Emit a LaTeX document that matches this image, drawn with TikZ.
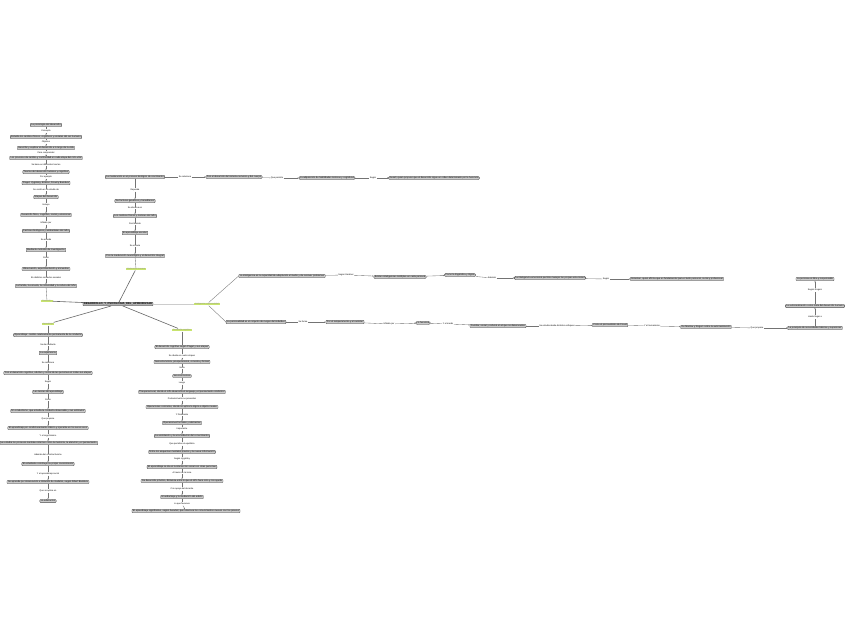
\documentclass[tikz,border=0pt]{standalone}
\usepackage{fontspec}
\setmainfont{Liberation Sans}
\usetikzlibrary{arrows.meta}
\definecolor{topicgreen}{RGB}{200,228,110}
\tikzset{
  box/.style={draw=black!70, fill=black!20, rounded corners=0.8pt, line width=0.3pt,
    inner xsep=1pt, inner ysep=0.7pt, font=\fontsize{2.4}{2.8}\selectfont},
  centralbox/.style={box, fill=black!30, font=\fontsize{2.7}{3}\selectfont\bfseries},
  lab/.style={fill=white, inner sep=0.4pt, font=\fontsize{2.2}{2.6}\selectfont},
  topic/.style={fill=topicgreen, inner xsep=1pt, inner ysep=0.5pt,
    text=black!40, font=\fontsize{2}{2.4}\selectfont},
  conn/.style={draw=black!55, line width=0.35pt},
  arr/.style={conn, -{Stealth[length=1.3pt,width=1.2pt]}},
  thick conn/.style={draw=black!60, line width=0.6pt},
  light conn/.style={draw=black!20, line width=0.8pt}
}
\begin{document}
\begin{tikzpicture}[x=1pt,y=-1pt]
\fill[white] (0,0) rectangle (848,638);
\useasboundingbox (0,0) rectangle (848,638);

% central node and topics
\node[centralbox] (c) at (118,304) {DESARROLLO\_Y\_PSICOLOGIA\_DEL\_APRENDIZAJE};
\node[topic] (g1) at (47,301) {Desarrollo};
\node[topic] (g2) at (48,324) {Aprendizaje};
\node[topic] (g3) at (136,269) {Maduración humana};
\node[topic] (g4) at (182,330) {Desarrollo cognitivo};
\node[topic] (g5) at (207,304) {Inteligencia y personalidad};
\draw[thick conn] (c) -- (g1);
\draw[thick conn] (c) -- (g2);
\draw[thick conn] (c) -- (g3);
\draw[thick conn] (c) -- (g4);
\draw[light conn] (c) -- (g5);

% ---------- left top column ----------
\node[box] (b1) at (46,125) {La psicología del desarrollo};
\node[lab] (lb1) at (46,131) {Concepto};
\node[box] (b2) at (46,137) {Estudia los cambios físicos, cognitivos y sociales del ser humano};
\node[lab] (lb2) at (46,142) {Objetivo};
\node[box] (b3) at (46,148) {Describir y explicar el desarrollo a lo largo de la vida};
\node[lab] (lb3) at (46,153) {Para comprender};
\node[box] (b4) at (46,158) {Los procesos de cambio y continuidad en cada etapa del ciclo vital};
\node[lab] (lb4) at (46,165) {Se basa en diferentes teorías};
\node[box] (b5) at (46,172) {Teorías del desarrollo humano y cognitivo};
\node[lab] (lb5) at (46,177) {Por ejemplo};
\node[box] (b6) at (46,183) {Piaget, Vygotsky, Erikson, Freud y Bandura};
\node[lab] (lb6) at (46,190) {Se centra en el estudio de};
\node[box] (b7) at (46,197) {Etapas del desarrollo};
\node[lab] (lb7) at (46,205) {Incluye};
\node[box] (b8) at (46,215) {Desarrollo físico, cognitivo, social y emocional};
\node[lab] (lb8) at (46,223) {Influido por};
\node[box] (b9) at (46,231) {Factores biológicos y ambientales del niño};
\node[lab] (lb9) at (46,240) {Se estudia};
\node[box] (b10) at (46,250) {Mediante métodos de investigación};
\node[lab] (lb10) at (46,258) {Como};
\node[box] (b11) at (46,269) {Observación, experimentación y encuestas};
\node[lab] (lb11) at (46,278) {En distintos contextos sociales};
\node[box] (b12) at (46,286) {La familia, la escuela, la comunidad y la cultura del niño};
\foreach \a/\l/\b in {b1/lb1/b2,b2/lb2/b3,b3/lb3/b4,b4/lb4/b5,b5/lb5/b6,b6/lb6/b7,b7/lb7/b8,b8/lb8/b9,b9/lb9/b10,b10/lb10/b11,b11/lb11/b12}{
  \draw[conn] (\a) -- (\l); \draw[arr] (\l) -- (\b);}
\draw[conn] (b12) -- (g1);

% ---------- lower left column ----------
\node[box] (c1) at (48,335) {Aprendizaje: cambio relativamente permanente de la conducta};
\node[lab] (lc1) at (48,345) {Se da mediante};
\node[box] (c2) at (48,353) {La experiencia};
\node[lab] (lc2) at (48,363) {Se relaciona};
\node[box] (c3) at (48,373) {Con el desarrollo cognitivo, afectivo y social de las personas en todas sus etapas};
\node[lab] (lc3) at (48,382) {Según};
\node[box] (c4) at (48,392) {Las teorías del aprendizaje};
\node[lab] (lc4) at (48,400) {Como};
\node[box] (c5) at (48,411) {El conductismo, que estudia la conducta observable y sus estímulos};
\node[lab] (lc5) at (48,419) {Que propone};
\node[box] (c6) at (48,428) {El aprendizaje por condicionamiento clásico y operante en los seres vivos};
\node[lab] (lc6) at (48,436) {Y el cognitivismo};
\node[box] (c7) at (48,443) {Que estudia los procesos mentales internos como la memoria, la atención y el pensamiento};
\node[lab] (lc7) at (48,455) {Además del constructivismo};
\node[box] (c8) at (48,464) {El estudiante construye su propio conocimiento};
\node[lab] (lc8) at (48,474) {Y el aprendizaje social};
\node[box] (c9) at (48,482) {Se aprende por observación e imitación de modelos, según Albert Bandura};
\node[lab] (lc9) at (48,491) {Que se aplica en};
\node[box] (c10) at (48,501) {La educación};
\draw[conn] (g2) -- (c1);
\foreach \a/\l/\b in {c1/lc1/c2,c2/lc2/c3,c3/lc3/c4,c4/lc4/c5,c5/lc5/c6,c6/lc6/c7,c7/lc7/c8,c8/lc8/c9,c9/lc9/c10}{
  \draw[conn] (\a) -- (\l); \draw[arr] (\l) -- (\b);}

% ---------- upper middle column ----------
\node[box] (a1) at (135,177) {La maduración es el proceso biológico de crecimiento};
\node[lab] (la1) at (185,177) {Se relaciona};
\node[box, rounded corners=2pt] (a2) at (234,177) {Con el desarrollo del sistema nervioso y del cuerpo};
\node[lab] (la2) at (277,178) {Que permite};
\node[box, rounded corners=2pt] (a3) at (327,178) {La adquisición de habilidades motoras y cognitivas};
\node[lab] (la3) at (373,178) {Según};
\node[box, rounded corners=2pt] (a4) at (434,178) {Gesell, quien propuso que el desarrollo sigue un orden determinado por la herencia};
\draw[conn] (a1) -- (la1); \draw[arr] (la1) -- (a2);
\draw[conn] (a2) -- (la2); \draw[arr] (la2) -- (a3);
\draw[conn] (a3) -- (la3); \draw[arr] (la3) -- (a4);
\node[lab] (le0) at (135,190) {Depende};
\node[box] (e1) at (135,201) {De factores genéticos y hereditarios};
\node[lab] (le1) at (135,208) {Se observa en};
\node[box] (e2) at (135,216) {Los cambios físicos y motores del niño};
\node[lab] (le2) at (135,224) {Permitiendo};
\node[box] (e3) at (135,233) {El aprendizaje escolar};
\node[lab] (le3) at (135,246) {Se vincula};
\node[box] (e4) at (135,256) {Con la maduración neurológica y el desarrollo integral};
\draw[conn] (a1) -- (le0); \draw[arr] (le0) -- (e1);
\draw[conn] (e1) -- (le1); \draw[arr] (le1) -- (e2);
\draw[conn] (e2) -- (le2); \draw[arr] (le2) -- (e3);
\draw[conn] (e3) -- (le3); \draw[arr] (le3) -- (e4);
\draw[conn] (e4) -- (g3);

% ---------- lower middle column ----------
\node[box] (m1) at (182,347) {El desarrollo cognitivo según Piaget y sus etapas};
\node[lab] (lm1) at (182,356) {Se divide en cuatro etapas};
\node[box] (m2) at (182,362) {Sensoriomotora, preoperacional, concreta y formal};
\node[lab] (lm2) at (182,368) {Inicia};
\node[box] (m3) at (182,376) {Sensoriomotora};
\node[lab] (lm3) at (182,383) {Luego};
\node[box] (m4) at (182,392) {Preoperacional, donde el niño desarrolla el lenguaje y el pensamiento simbólico};
\node[lab] (lm4) at (182,399) {Posteriormente se presentan};
\node[box] (m5) at (182,407) {Operaciones concretas, donde se aplica la lógica a objetos reales};
\node[lab] (lm5) at (182,415) {Y finalmente};
\node[box] (m6) at (182,423) {Operaciones formales y abstractas};
\node[lab] (lm6) at (182,429) {Importante};
\node[box] (m7) at (182,436) {La asimilación y la acomodación del conocimiento};
\node[lab] (lm7) at (182,444) {Que permiten el equilibrio};
\node[box] (m8) at (182,452) {Entre los esquemas mentales previos y la nueva información};
\node[lab] (lm8) at (182,459) {Según Vygotsky};
\node[box] (m9) at (182,467) {El aprendizaje se da en la interacción social con otras personas};
\node[lab] (lm9) at (182,473) {A través de la zona};
\node[box] (m10) at (182,481) {De desarrollo próximo, distancia entre lo que el niño hace solo y con ayuda};
\node[lab] (lm10) at (182,489) {Con apoyo del docente};
\node[box] (m11) at (182,497) {El andamiaje y la mediación del adulto};
\node[lab] (lm11) at (182,504) {Lo que favorece};
\node[box] (m12) at (186,511) {El aprendizaje significativo, según Ausubel, que relaciona los conocimientos nuevos con los previos};
\draw[conn] (g4) -- (m1);
\foreach \a/\l/\b in {m1/lm1/m2,m2/lm2/m3,m3/lm3/m4,m4/lm4/m5,m5/lm5/m6,m6/lm6/m7,m7/lm7/m8,m8/lm8/m9,m9/lm9/m10,m10/lm10/m11,m11/lm11/m12}{
  \draw[conn] (\a) -- (\l); \draw[arr] (\l) -- (\b);}

% ---------- right upper chain ----------
\node[box] (r1) at (282,276) {La inteligencia es la capacidad de adaptación al medio y de resolver problemas};
\node[lab] (lr1) at (346,275) {Según Gardner};
\node[box, rounded corners=2pt] (r2) at (400,277) {Existen inteligencias múltiples en cada persona};
\node[box, rounded corners=2pt] (r3) at (460,275) {Como la lingüística y lógica};
\node[lab] (lr3) at (492,278) {Además};
\node[box, rounded corners=2pt] (r4) at (550,278) {La inteligencia emocional permite manejar las propias emociones};
\node[lab] (lr4) at (606,279) {Según};
\node[box] (r5) at (677,279) {Goleman, quien afirma que es fundamental para el éxito personal, social y profesional};
\draw[conn] (g5) -- (r1.west);
\draw[conn] (r1) -- (lr1); \draw[arr] (lr1) -- (r2);
\draw[arr] (r2) -- (r3);
\draw[conn] (r3) -- (lr3); \draw[arr] (lr3) -- (r4);
\draw[conn] (r4) -- (lr4); \draw[arr] (lr4) -- (r5);

% ---------- right lower chain ----------
\node[box] (s1) at (256,322) {La personalidad es el conjunto de rasgos del individuo};
\node[lab] (ls1) at (303,322) {Se forma};
\node[box] (s2) at (345,322) {Por el temperamento y el carácter};
\node[lab] (ls2) at (389,324) {Influida por};
\node[box, rounded corners=2pt] (s3) at (423,323) {La herencia};
\node[lab] (ls3) at (448,324) {Y el medio};
\node[box] (s4) at (498,326) {Familiar, social y cultural en el que se desenvuelve};
\node[lab] (ls4) at (557,326) {Se estudia desde distintos enfoques};
\node[box] (s5) at (610,325) {Como el psicoanálisis de Freud};
\node[lab] (ls5) at (652,326) {Y el humanismo};
\node[box] (s6) at (706,327) {De Maslow y Rogers sobre la autorrealización};
\node[lab] (ls6) at (757,328) {Que propone};
\node[box] (s7) at (815,328) {La jerarquía de necesidades básicas y superiores};
\node[lab] (ls7) at (815,317) {Hasta llegar a};
\node[box] (s8) at (815,306) {La autorrealización como meta del desarrollo humano};
\node[lab] (ls8) at (815,290) {Según Rogers};
\node[box] (s9) at (815,279) {La persona es libre y responsable};
\draw[conn] (g5) -- (s1.west);
\foreach \a/\l/\b in {s1/ls1/s2,s2/ls2/s3,s3/ls3/s4,s4/ls4/s5,s5/ls5/s6,s6/ls6/s7,s7/ls7/s8,s8/ls8/s9}{
  \draw[conn] (\a) -- (\l); \draw[arr] (\l) -- (\b);}
\end{tikzpicture}
\end{document}
